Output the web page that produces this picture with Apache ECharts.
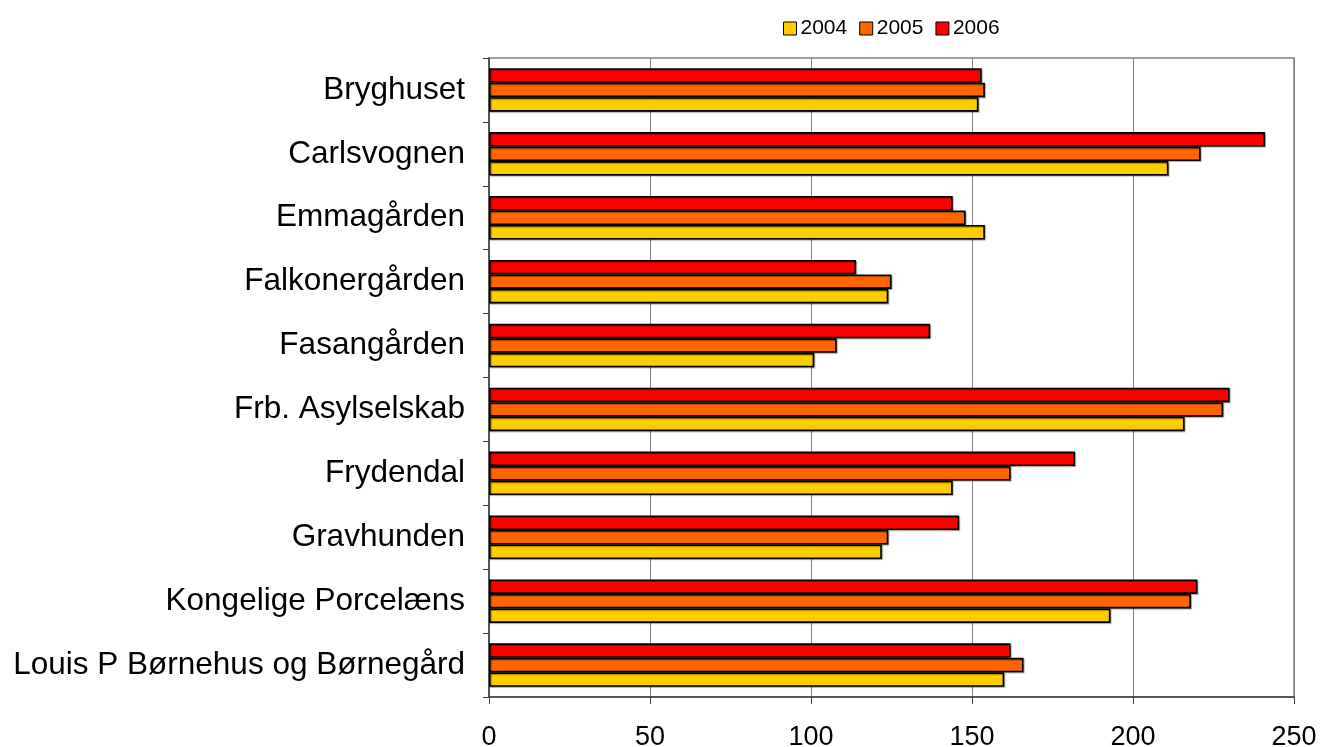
<!DOCTYPE html>
<html>
<head>
<meta charset="utf-8">
<script src="https://cdn.jsdelivr.net/npm/echarts@6/dist/echarts.min.js"></script>
<style>
  html, body { margin: 0; padding: 0; background: #fff; }
  #chart { width: 1321px; height: 747px; }
</style>
</head>
<body>
<div id="chart"></div>
<script>
const categories = [
  'Bryghuset', 'Carlsvognen', 'Emmagården', 'Falkonergården', 'Fasangården',
  'Frb. Asylselskab', 'Frydendal', 'Gravhunden', 'Kongelige Porcelæns',
  'Louis P Børnehus og Børnegård'
]
const years = ['2004', '2005', '2006']
const values2004 = [152, 211, 154, 124, 101, 216, 144, 122, 193, 160]
const values2005 = [154, 221, 148, 125, 108, 228, 162, 124, 218, 166]
const values2006 = [153, 241, 144, 114, 137, 230, 182, 146, 220, 162]
const xTicks = [0, 50, 100, 150, 200, 250]

const colors = { '2004': '#FFCC00', '2005': '#FF6600', '2006': '#FF0000' }
const valuesByYear = { '2004': values2004, '2005': values2005, '2006': values2006 }

const chart = echarts.init(document.getElementById('chart'))

// 2006 is drawn on top inside each group, so series go 2006 -> 2004
const barSeries = (year) => ({
  name: year,
  type: 'bar',
  data: valuesByYear[year],
  barGap: '0%',
  barCategoryGap: '32%',
  itemStyle: {
    color: colors[year],
    borderColor: '#000',
    borderWidth: 1.6,
    shadowColor: 'rgba(0,0,0,0.35)',
    shadowOffsetX: 1,
    shadowOffsetY: 1,
    shadowBlur: 1
  }
})

chart.setOption({
  animation: false,
  textStyle: { fontFamily: 'Liberation Sans, Arial, sans-serif' },
  legend: {
    data: years,
    top: 13,
    left: 778,
    itemWidth: 13,
    itemHeight: 13,
    itemGap: 12,
    textStyle: { fontSize: 21, color: '#000', padding: [0, 0, 0, -1] },
    icon: 'rect',
    itemStyle: { borderColor: '#000', borderWidth: 1 }
  },
  grid: {
    left: 489, right: 27, top: 58, bottom: 50,
    outerBoundsMode: 'none',
    containLabel: false,
    show: true, borderColor: '#808080', borderWidth: 1.5
  },
  xAxis: {
    type: 'value',
    min: xTicks[0],
    max: xTicks[xTicks.length - 1],
    interval: 50,
    axisLine: { show: true, lineStyle: { color: '#404040', width: 1.5 } },
    axisTick: { show: true, length: 7, lineStyle: { color: '#404040' } },
    axisLabel: { fontSize: 27, color: '#000', margin: 27 },
    splitLine: { show: true, lineStyle: { color: '#808080', width: 1 } }
  },
  yAxis: {
    type: 'category',
    data: categories,
    inverse: true,
    axisLine: { show: true, lineStyle: { color: '#404040', width: 1.5 } },
    axisTick: { show: true, length: 6, lineStyle: { color: '#404040' } },
    axisLabel: { fontSize: 31.5, color: '#000', margin: 24 }
  },
  series: [
    barSeries('2006'),
    barSeries('2005'),
    barSeries('2004')
  ]
})
</script>
</body>
</html>
